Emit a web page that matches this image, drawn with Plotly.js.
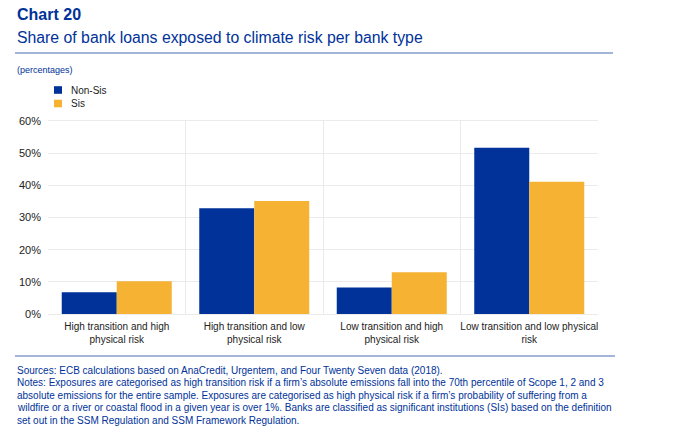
<!DOCTYPE html>
<html>
<head>
<meta charset="utf-8">
<script src="https://cdn.plot.ly/plotly-3.0.1.min.js"></script>
<style>html,body{margin:0;padding:0;background:#fff;}#chart{width:700px;height:437px;}</style>
</head>
<body>
<div id="chart"></div>
<script>
const categories = [
  "High transition and high<br>physical risk",
  "High transition and low<br>physical risk",
  "Low transition and high<br>physical risk",
  "Low transition and low physical<br>risk"
];
const nonSis = [6.8, 32.9, 8.2, 51.7];
const sis = [10.2, 35.1, 13.0, 41.1];
const seriesNames = ["Non-Sis", "Sis"];
const seriesColors = ["#003299", "#F6B233"];
const yTicks = [0, 10, 20, 30, 40, 50, 60];

const W = 700, H = 437;
const M = {l: 48, r: 102, t: 121, b: 123};
const pw = W - M.l - M.r, ph = H - M.t - M.b;
const px = x => (x - M.l) / pw;
const py = y => (H - M.b - y) / ph;

const blue = "#003299";
const font = "Liberation Sans, Arial, sans-serif";

const traces = seriesNames.map((n, i) => ({
  type: "bar", name: n, x: categories, y: i === 0 ? nonSis : sis,
  marker: {color: seriesColors[i]}, hoverinfo: "none"
}));

const notes = [
  "Sources: ECB calculations based on AnaCredit, Urgentem, and Four Twenty Seven data (2018).",
  "Notes: Exposures are categorised as high transition risk if a firm\u2019s absolute emissions fall into the 70th percentile of Scope 1, 2 and 3",
  "absolute emissions for the entire sample. Exposures are categorised as high physical risk if a firm\u2019s probability of suffering from a",
  "wildfire or a river or coastal flood in a given year is over 1%. Banks are classified as significant institutions (SIs) based on the definition",
  "set out in the SSM Regulation and SSM Framework Regulation."
];

const annotations = [
  {text: "<b>Chart 20</b>", x: px(15), y: py(14), font: {size: 16, color: blue, family: font}},
  {text: "Share of bank loans exposed to climate risk per bank type", x: px(15), y: py(37), font: {size: 15.8, color: blue, family: font}},
  {text: "(percentages)", x: px(15), y: py(70), font: {size: 9, color: blue, family: font}}
].map(a => Object.assign({xref: "paper", yref: "paper", xanchor: "left", yanchor: "middle", showarrow: false}, a));

notes.forEach((t, i) => {
  annotations.push({text: t, xref: "paper", yref: "paper", x: px(15), y: py(370 + i * 12.6),
    xanchor: "left", yanchor: "middle", showarrow: false, font: {size: 10, color: blue, family: font}});
});

const shapes = [
  {type: "line", xref: "paper", yref: "paper", x0: px(15), x1: px(613), y0: py(53), y1: py(53), line: {color: "#4a6db5", width: 1.2}},
  {type: "line", xref: "paper", yref: "paper", x0: px(15), x1: px(615), y0: py(356), y1: py(356), line: {color: "#4a6db5", width: 1.2}}
];

// custom legend keys
seriesNames.forEach((n, i) => {
  const cy = 90 + i * 13.5;
  shapes.push({type: "rect", xref: "paper", yref: "paper", x0: px(54), x1: px(62), y0: py(cy - 3.8), y1: py(cy + 3.8),
    fillcolor: seriesColors[i], line: {width: 0}});
  annotations.push({text: n, xref: "paper", yref: "paper", x: px(69), y: py(cy), xanchor: "left", yanchor: "middle",
    showarrow: false, font: {size: 10, color: "#222", family: font}});
});

const layout = {
  width: W, height: H,
  margin: M,
  paper_bgcolor: "#fff", plot_bgcolor: "#fff",
  font: {family: font, size: 10, color: "#222"},
  barmode: "group",
  bargap: 0.2,
  bargroupgap: 0,
  showlegend: false,
  xaxis: {
    type: "category",
    tickson: "boundaries",
    tickangle: 0,
    ticklabelstandoff: 3,
    showgrid: true, gridcolor: "#ebebeb", gridwidth: 1,
    showline: true, linecolor: "#ebebeb", mirror: true,
    ticks: "", tickfont: {size: 10, color: "#222"},
    fixedrange: true
  },
  yaxis: {
    range: [0, 60],
    tickvals: yTicks,
    ticktext: yTicks.map(v => v + "%"),
    ticklabelstandoff: 6,
    showgrid: true, gridcolor: "#ebebeb", gridwidth: 1,
    zeroline: false, showline: false,
    ticks: "", tickfont: {size: 11, color: "#222"},
    fixedrange: true
  },
  annotations: annotations,
  shapes: shapes
};

Plotly.newPlot("chart", traces, layout, {displayModeBar: false, staticPlot: true});
</script>
</body>
</html>
